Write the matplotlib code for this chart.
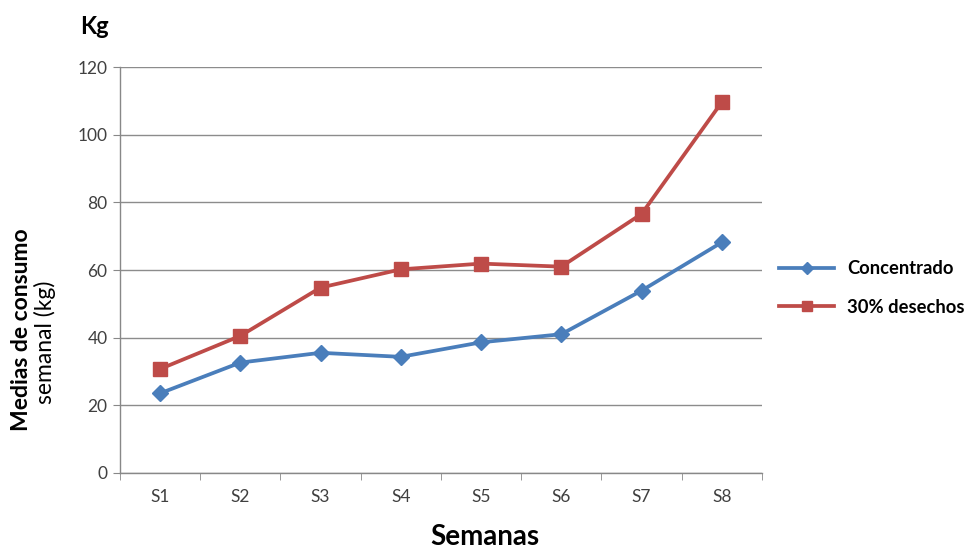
import matplotlib.pyplot as plt
import numpy as np

categories = ["S1", "S2", "S3", "S4", "S5", "S6", "S7", "S8"]
concentrado = [23.5, 32.6, 35.5, 34.3, 38.6, 41.0, 53.9, 68.2]
desechos = [30.7, 40.5, 54.8, 60.2, 61.9, 61.0, 76.6, 109.7]
yticks = [0, 20, 40, 60, 80, 100, 120]

plt.rcParams['font.family'] = ['Lato', 'DejaVu Sans']

fig = plt.figure(figsize=(9.75, 5.5), dpi=100)
ax = fig.add_axes([0.123, 0.1405, 0.6585, 0.7371])

x = np.arange(len(categories))
blue = '#4A7EBB'
red = '#BE4B48'
ax.plot(x, concentrado, color=blue, lw=2.7, marker='D', ms=8.5, label='Concentrado', zorder=3)
ax.plot(x, desechos, color=red, lw=2.7, marker='s', ms=10, label='30% desechos', zorder=3)

ax.set_xlim(-0.5, len(categories) - 0.5)
ax.set_ylim(0, 120)
ax.set_yticks(yticks)
ax.set_yticklabels([str(v) for v in yticks], fontsize=12.5, color='#404040')
ax.set_xticks(x)
ax.set_xticklabels(categories, fontsize=12.5, color='#404040')
ax.set_xticks(np.arange(-0.5, len(categories)), minor=True)
ax.tick_params(axis='x', which='major', length=0, pad=12)
ax.tick_params(axis='x', which='minor', length=5, color='#888888', direction='out')
ax.tick_params(axis='y', length=5, color='#888888', pad=4)

ax.grid(axis='y', color='#8C8C8C', lw=1)
ax.set_axisbelow(True)
for s in ['top', 'right']:
    ax.spines[s].set_visible(False)
for s in ['left', 'bottom']:
    ax.spines[s].set_color('#888888')
    ax.spines[s].set_linewidth(1)

fig.text(94/975, 1 - 27/550, 'Kg', fontsize=17, fontweight='bold', ha='center', va='center')
fig.text(22/975, 1 - 330/550, 'Medias de consumo', fontsize=16.5, fontweight='bold',
         rotation=90, ha='center', va='center')
fig.text(45/975, 1 - 342/550, 'semanal (kg)', fontsize=16.5, fontweight='normal',
         rotation=90, ha='center', va='center')
fig.text(485/975, 1 - 537/550, 'Semanas', fontsize=20, fontweight='bold', ha='center', va='center')

leg = fig.legend(loc='center left', bbox_to_anchor=(779/975, 1 - 288/550), frameon=False,
                 fontsize=13.2, handlelength=3.0, labelspacing=1.15, handletextpad=0.7,
                 borderpad=0, borderaxespad=0, markerscale=0.75)
for t in leg.get_texts():
    t.set_fontweight('bold')

fig.savefig('out.png', dpi=100)
